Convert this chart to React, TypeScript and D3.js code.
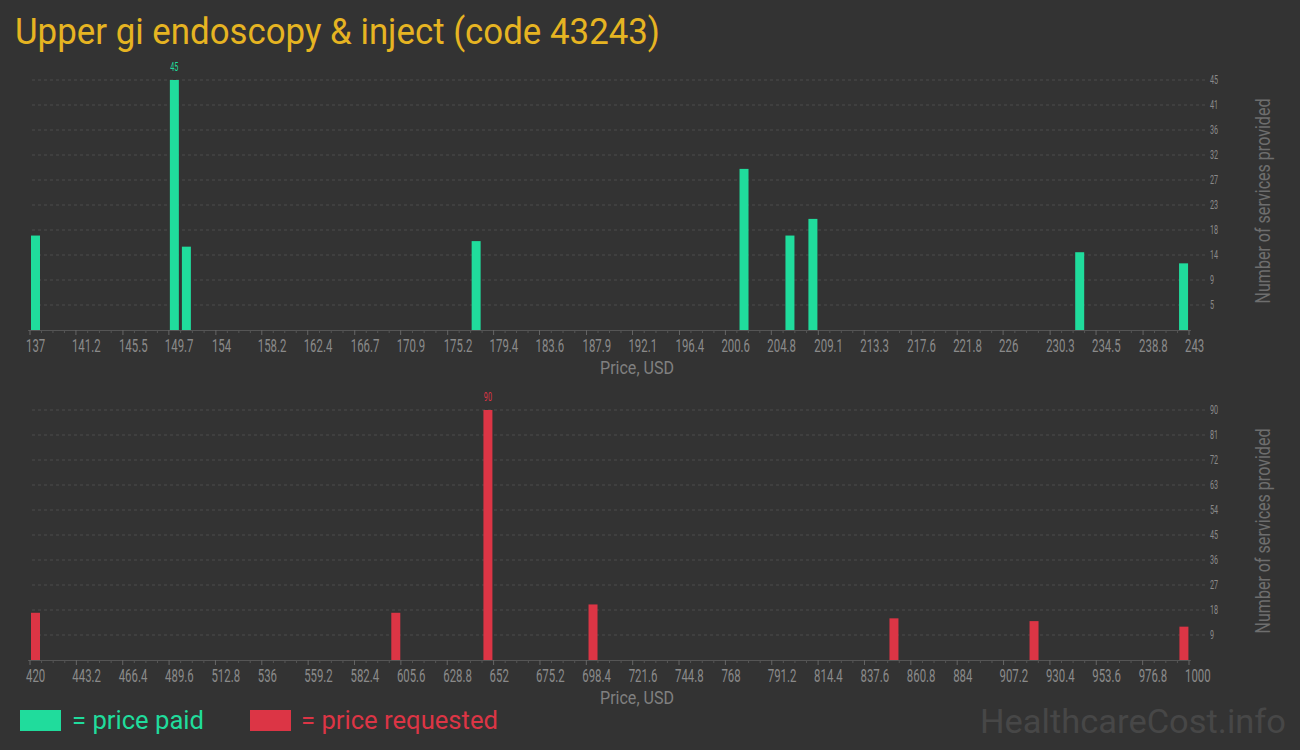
import React from "react";
import * as d3 from "d3";

const TITLE = "Upper gi endoscopy & inject (code 43243)";

// Top chart: price paid
const paidTickLabels = ["137","141.2","145.5","149.7","154","158.2","162.4","166.7","170.9","175.2","179.4","183.6","187.9","192.1","196.4","200.6","204.8","209.1","213.3","217.6","221.8","226","230.3","234.5","238.8","243"];
const paidPrices = [137, 149.7, 150.8, 177.3, 201.8, 206.0, 208.1, 232.5, 242.0];
const paidCounts = [17, 45, 15, 16, 29, 17, 20, 14, 12];
const paidYLabels = ["5","9","14","18","23","27","32","36","41","45"];
const paidYMax = 45;

// Bottom chart: price requested
const reqTickLabels = ["420","443.2","466.4","489.6","512.8","536","559.2","582.4","605.6","628.8","652","675.2","698.4","721.6","744.8","768","791.2","814.4","837.6","860.8","884","907.2","930.4","953.6","976.8","1000"];
const reqPrices = [420, 600.3, 646.4, 699, 849.6, 919.7, 994.7];
const reqCounts = [17, 17, 90, 20, 15, 14, 12];
const reqYLabels = ["9","18","27","36","45","54","63","72","81","90"];
const reqYMax = 90;

const GREEN = "#20dc9c";
const RED = "#dc3545";
const BG = "#333333";
const FONT = "Roboto, 'Open Sans', sans-serif";

type CTextProps = {
  x: number; y: number; sx?: number; size: number; fill: string;
  anchor?: "start" | "middle" | "end"; children: React.ReactNode;
};
function CText({ x, y, sx = 0.6, size, fill, anchor = "start", children }: CTextProps) {
  return (
    <text
      transform={`translate(${x},${y}) scale(${sx},1)`}
      fontFamily={FONT}
      fontSize={size}
      fill={fill}
      textAnchor={anchor}
    >
      {children}
    </text>
  );
}

type PanelProps = {
  top: number; base: number; tickLabels: string[]; prices: number[]; counts: number[];
  yLabels: string[]; yMax: number; color: string;
};

function Panel({ top, base, tickLabels, prices, counts, yLabels, yMax, color }: PanelProps) {
  const tickVals = tickLabels.map(Number);
  const x = d3.scaleLinear().domain([tickVals[0], tickVals[tickVals.length - 1]]).range([30, 1189]);
  const y = d3.scaleLinear().domain([0, yMax]).range([base, top]);
  const step = yMax / yLabels.length;
  const maxIdx = counts.indexOf(d3.max(counts) as number);
  const minorVals: number[] = [];
  for (let i = 0; i < tickVals.length - 1; i++) {
    const a = tickVals[i], b = tickVals[i + 1];
    for (let k = 1; k < 4; k++) minorVals.push(a + ((b - a) * k) / 4);
  }
  return (
    <g>
      {yLabels.map((lab, i) => {
        const yy = y(step * (i + 1));
        return (
          <g key={lab}>
            <line x1={32} x2={1205} y1={yy} y2={yy} stroke="#4c4c4c" strokeWidth={1} strokeDasharray="3,3" />
            <CText x={1210} y={yy + 4} size={12} sx={0.6} fill="#8a8a8a">{lab}</CText>
          </g>
        );
      })}
      <line x1={28} x2={1191} y1={base + 0.5} y2={base + 0.5} stroke="#555" strokeWidth={1} />
      {tickVals.map((v, i) => (
        <g key={"t" + i}>
          <line x1={x(v)} x2={x(v)} y1={base} y2={base + 5} stroke="#666" strokeWidth={1} />
          <CText x={x(v) - 4} y={base + 22} size={19} sx={0.6} fill="#8a8a8a">{tickLabels[i]}</CText>
        </g>
      ))}
      {minorVals.map((v, i) => (
        <line key={"m" + i} x1={x(v)} x2={x(v)} y1={base} y2={base + 3} stroke="#555" strokeWidth={1} />
      ))}
      {prices.map((p, i) => (
        <rect key={"b" + i} x={x(p) + 1} y={y(counts[i])} width={9} height={base - y(counts[i])} fill={color} />
      ))}
      <CText x={x(prices[maxIdx]) + 5.5} y={y(counts[maxIdx]) - 9} size={12} sx={0.6} fill={color} anchor="middle">
        {String(counts[maxIdx])}
      </CText>
      <text x={637} y={base + 44} fontFamily={FONT} fontSize={18} fill="#808080" textAnchor="middle" textLength={74} lengthAdjust="spacingAndGlyphs">Price, USD</text>
      <text
        transform={`translate(1270,${(top + base) / 2 - 4}) rotate(-90)`}
        fontFamily={FONT}
        fontSize={20}
        fill="#6e6e6e"
        textAnchor="middle"
        textLength={205}
        lengthAdjust="spacingAndGlyphs"
      >
        Number of services provided
      </text>
    </g>
  );
}

export default function App() {
  return (
    <svg width={1300} height={750} style={{ position: "absolute", left: 0, top: 0, display: "block" }}>
      <rect width={1300} height={750} fill={BG} />
      <text x={15} y={44} fontFamily={FONT} fontSize={37} fill="#e6b422" textLength={645} lengthAdjust="spacingAndGlyphs">{TITLE}</text>
      <Panel top={80} base={330} tickLabels={paidTickLabels} prices={paidPrices} counts={paidCounts} yLabels={paidYLabels} yMax={paidYMax} color={GREEN} />
      <Panel top={410} base={660} tickLabels={reqTickLabels} prices={reqPrices} counts={reqCounts} yLabels={reqYLabels} yMax={reqYMax} color={RED} />
      <rect x={20} y={710} width={41} height={21} fill={GREEN} />
      <text x={72} y={729} fontFamily={FONT} fontSize={26} fill={GREEN} textLength={132} lengthAdjust="spacingAndGlyphs">= price paid</text>
      <rect x={250} y={710} width={41} height={21} fill={RED} />
      <text x={301} y={729} fontFamily={FONT} fontSize={26} fill={RED} textLength={197} lengthAdjust="spacingAndGlyphs">= price requested</text>
      <text x={980} y={733} fontFamily={FONT} fontSize={34} fill="#474747" textLength={306} lengthAdjust="spacingAndGlyphs">HealthcareCost.info</text>
    </svg>
  );
}
